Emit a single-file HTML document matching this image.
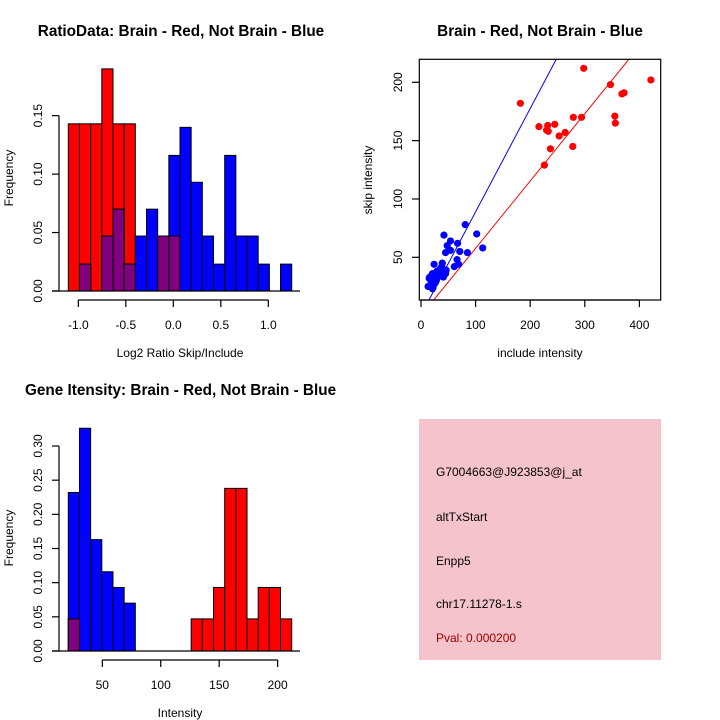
<!DOCTYPE html>
<html><head><meta charset="utf-8"><style>
body{margin:0;background:#fff}
svg{display:block;font-family:"Liberation Sans",Arial,sans-serif}
</style></head><body>
<svg id="c" width="720" height="720" viewBox="0 0 720 720" xmlns="http://www.w3.org/2000/svg">
<rect width="720" height="720" fill="#fff"/>
<text x="181" y="36" text-anchor="middle" font-size="15.3" font-weight="bold">RatioData: Brain - Red, Not Brain - Blue</text>
<text x="180" y="357" text-anchor="middle" font-size="12">Log2 Ratio Skip/Include</text>
<text transform="translate(13,178) rotate(-90)" text-anchor="middle" font-size="12">Frequency</text>
<text x="540" y="36" text-anchor="middle" font-size="15.3" font-weight="bold">Brain - Red, Not Brain - Blue</text>
<text x="540" y="357" text-anchor="middle" font-size="12">include intensity</text>
<text transform="translate(372,180) rotate(-90)" text-anchor="middle" font-size="12">skip intensity</text>
<text x="25" y="395" font-size="15.3" font-weight="bold">Gene Itensity: Brain - Red, Not Brain - Blue</text>
<text x="180" y="717" text-anchor="middle" font-size="12">Intensity</text>
<text transform="translate(13,538) rotate(-90)" text-anchor="middle" font-size="12">Frequency</text>
<g>
<rect x="419" y="419" width="242" height="241" fill="#f4c3cc"/>
<text x="436" y="476" font-size="12">G7004663@J923853@j_at</text>
<text x="436" y="521" font-size="12">altTxStart</text>
<text x="436" y="565" font-size="12">Enpp5</text>
<text x="436" y="608" font-size="12">chr17.11278-1.s</text>
<text x="436" y="642" font-size="12" fill="#a00000">Pval: 0.000200</text>
</g>
</svg>
<script>
// Ratio histogram data (20 bins)
const ratioRed=[0.143,0.143,0.143,0.19,0.143,0.143,0,0,0,0,0,0,0,0,0,0,0,0,0,0];
const ratioBlue=[0,0.023,0,0.047,0.07,0.023,0.047,0.07,0.047,0.116,0.14,0.093,0.047,0.023,0.116,0.047,0.047,0.023,0,0.023];
const ratioPurple=[0,0.023,0,0.047,0.07,0.023,0,0,0.047,0.047,0,0,0,0,0,0,0,0,0,0];
const ratioXTicks=[-1.0,-0.5,0.0,0.5,1.0];
const ratioXLabels=["-1.0","-0.5","0.0","0.5","1.0"];
const ratioYTicks=[0,0.05,0.10,0.15];
const ratioYLabels=["0.00","0.05","0.10","0.15"];
// Intensity histogram data (20 bins)
const intRed=[0.047,0,0,0,0,0,0,0,0,0,0,0.047,0.047,0.093,0.238,0.238,0.047,0.093,0.093,0.047];
const intBlue=[0.232,0.326,0.163,0.116,0.093,0.07,0,0,0,0,0,0,0,0,0,0,0,0,0,0];
const intPurple=[0.047,0,0,0,0,0,0,0,0,0,0,0,0,0,0,0,0,0,0,0];
const intXTicks=[50,100,150,200];
const intYTicks=[0,0.05,0.10,0.15,0.20,0.25,0.30];
const intYLabels=["0.00","0.05","0.10","0.15","0.20","0.25","0.30"];
// Scatter data
const redX=[182,298,347,368,372,421,216,232,233,230,245,264,253,237,226,279,294,278,355,356];
const redY=[182,212,198,190,191,202,162,163,158,159,164,157,154,143,129,170,170,145,171,165];
const blueX=[81,102,113,85,71,42,54,67,48,54,45,66,69,61,24,39,46,35,29,41,16,13,21,26,18,27,33,21,45,38,30,24,19,15,22,35,40,28];
const blueY=[78,70,58,54,55,69,64,62,60,56,54,48,44,42,44,45,39,40,38,33,33,25,23,28,30,32,36,36,36,42,34,27,34,32,24,38,36,30];
const blueSlope=0.885, blueIntercept=0.5, redSlope=0.577, redIntercept=0;
const scXTicks=[0,100,200,300,400];
const scYTicks=[50,100,150,200];

const svg=document.getElementById('c');
const NS='http://www.w3.org/2000/svg';
function mk(tag,attrs,parent){const e=document.createElementNS(NS,tag);for(const k in attrs)e.setAttribute(k,attrs[k]);(parent||svg).appendChild(e);return e;}

function hist(prefix,x0,binW,y0,scale,series,colors,yTicks,yLabels){
  const g=mk('g',{});
  
  
  series.forEach((s,si)=>{
    s.forEach((v,i)=>{
      if(v<=0)return;
      const h=v*scale;
      const r=mk('rect',{x:x0+i*binW,y:y0-h,width:binW,height:h,fill:colors[si],stroke:'#000','stroke-width':1},g);
      
      
    });
  });
  mk('line',{x1:52,y1:y0,x2:300,y2:y0,stroke:'#000','stroke-width':1.3},g);
  const ya=mk('g',{},g);
  
  
  mk('line',{x1:59,y1:y0,x2:59,y2:y0-yTicks[yTicks.length-1]*scale,stroke:'#000','stroke-width':1.2},ya);
  yTicks.forEach((t,i)=>{
    const y=y0-t*scale;
    mk('line',{x1:52,y1:y,x2:59,y2:y,stroke:'#000','stroke-width':1.2},ya);
    const tx=mk('text',{transform:`translate(42,${y}) rotate(-90)`,'text-anchor':'middle','font-size':12},ya);
    tx.textContent=yLabels[i];
  });
}
hist('ratio',68.3,11.17,291,1169,[ratioRed,ratioBlue,ratioPurple],['#ff0000','#0000ff','#800080'],ratioYTicks,ratioYLabels);
function rx(v){return 78.3+(v+1)*95;}
const rxa=mk('g',{});


mk('line',{x1:rx(-1),y1:300,x2:rx(1),y2:300,stroke:'#000','stroke-width':1.2},rxa);
ratioXTicks.forEach((t,i)=>{mk('line',{x1:rx(t),y1:300,x2:rx(t),y2:307,stroke:'#000','stroke-width':1.2},rxa);const tx=mk('text',{x:rx(t),y:329,'text-anchor':'middle','font-size':12},rxa);tx.textContent=ratioXLabels[i];});

hist('intensity',68.3,11.17,651,683.3,[intRed,intBlue,intPurple],['#ff0000','#0000ff','#800080'],intYTicks,intYLabels);
function ix(v){return 102.3+(v-50)*1.169;}
const ixa=mk('g',{});


mk('line',{x1:ix(50),y1:660,x2:ix(200),y2:660,stroke:'#000','stroke-width':1.2},ixa);
intXTicks.forEach(t=>{mk('line',{x1:ix(t),y1:660,x2:ix(t),y2:667,stroke:'#000','stroke-width':1.2},ixa);const tx=mk('text',{x:ix(t),y:689,'text-anchor':'middle','font-size':12},ixa);tx.textContent=String(t);});

function sx(v){return 421+v*0.546;}
function sy(v){return 257.3-(v-50)*1.1667;}
const sg=mk('g',{});


const cp=mk('clipPath',{id:'sc'},sg);mk('rect',{x:419.5,y:59.5,width:241,height:240.5},cp);
const lines=mk('g',{'clip-path':'url(#sc)'},sg);
const bl=mk('line',{x1:sx(0),y1:sy(blueIntercept),x2:sx(400),y2:sy(blueIntercept+blueSlope*400),stroke:'#0000ff','stroke-width':1},lines);


const rl=mk('line',{x1:sx(0),y1:sy(redIntercept),x2:sx(450),y2:sy(redIntercept+redSlope*450),stroke:'#ff0000','stroke-width':1},lines);


redX.forEach((x,i)=>{const c=mk('circle',{cx:sx(x),cy:sy(redY[i]),r:3.6,fill:'#ff0000'},sg);});
blueX.forEach((x,i)=>{const c=mk('circle',{cx:sx(x),cy:sy(blueY[i]),r:3.6,fill:'#0000ff'},sg);});
mk('rect',{x:419.3,y:59.3,width:241.4,height:240.7,fill:'none',stroke:'#000','stroke-width':1.2},sg);
const sxa=mk('g',{});


mk('line',{x1:sx(0),y1:300,x2:sx(400),y2:300,stroke:'#000','stroke-width':1.2},sxa);
scXTicks.forEach(t=>{mk('line',{x1:sx(t),y1:300,x2:sx(t),y2:307,stroke:'#000','stroke-width':1.2},sxa);const tx=mk('text',{x:sx(t),y:329,'text-anchor':'middle','font-size':12},sxa);tx.textContent=String(t);});
const sya=mk('g',{});


scYTicks.forEach(t=>{mk('line',{x1:412,y1:sy(t),x2:419.3,y2:sy(t),stroke:'#000','stroke-width':1.2},sya);const tx=mk('text',{transform:`translate(402,${sy(t)}) rotate(-90)`,'text-anchor':'middle','font-size':12},sya);tx.textContent=String(t);});
</script>
</body></html>
